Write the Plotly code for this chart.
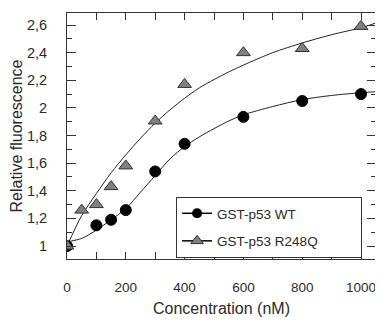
import plotly.graph_objects as go

# Measured data points
conc_wt = [0, 100, 150, 200, 300, 400, 600, 800, 1000]
fluo_wt = [1.0, 1.15, 1.19, 1.26, 1.54, 1.74, 1.935, 2.05, 2.10]

conc_mut = [0, 50, 100, 150, 200, 300, 400, 600, 800, 1000]
fluo_mut = [1.0, 1.26, 1.30, 1.43, 1.58, 1.905, 2.17, 2.40, 2.43, 2.59]

# Fitted curves
fit_x_wt = [0, 50, 100, 150, 200, 250, 300, 350, 400, 450, 500, 550, 600, 700, 800, 900, 1000, 1051]
fit_y_wt = [1.03, 1.055, 1.115, 1.19, 1.27, 1.39, 1.51, 1.63, 1.72, 1.79, 1.85, 1.905, 1.95, 2.01, 2.06, 2.09, 2.11, 2.117]

fit_x_mut = [0, 50, 100, 150, 200, 250, 300, 350, 400, 450, 500, 550, 600, 700, 800, 900, 1000, 1051]
fit_y_mut = [1.0, 1.22, 1.38, 1.53, 1.66, 1.78, 1.89, 1.985, 2.07, 2.145, 2.205, 2.26, 2.31, 2.40, 2.47, 2.53, 2.58, 2.615]

names = ["GST-p53 WT", "GST-p53 R248Q"]

x_ticks = [0, 100, 200, 300, 400, 500, 600, 700, 800, 900, 1000]
x_text = ["0", "", "200", "", "400", "", "600", "", "800", "", "1000"]
y_ticks = [1.0, 1.2, 1.4, 1.6, 1.8, 2.0, 2.2, 2.4, 2.6]
y_text = ["1", "1,2", "1,4", "1,6", "1,8", "2", "2,2", "2,4", "2,6"]

line_col = "#222222"
fig = go.Figure()

fig.add_trace(go.Scatter(x=fit_x_wt, y=fit_y_wt, mode="lines",
                         line=dict(color=line_col, width=1, shape="spline", smoothing=0.8),
                         showlegend=False, hoverinfo="skip"))
fig.add_trace(go.Scatter(x=fit_x_mut, y=fit_y_mut, mode="lines",
                         line=dict(color=line_col, width=1, shape="spline", smoothing=0.8),
                         showlegend=False, hoverinfo="skip"))

fig.add_trace(go.Scatter(x=conc_wt, y=fluo_wt, mode="markers", showlegend=False,
                         marker=dict(symbol="circle", size=11, color="black", line=dict(color="black", width=1))))
fig.add_trace(go.Scatter(x=conc_mut, y=fluo_mut, mode="markers", showlegend=False,
                         marker=dict(symbol="triangle-up", size=12, color="#808080", line=dict(color="#333333", width=1))))

# legend entries
pad = "\u00a0" * 10
fig.add_trace(go.Scatter(x=[None], y=[None], mode="lines+markers", name=names[0] + pad, legendgroup="a",
                         line=dict(color="black", width=1.5),
                         marker=dict(symbol="circle", size=10, color="black")))
fig.add_trace(go.Scatter(x=[None], y=[None], mode="lines+markers", name=names[1] + pad, legendgroup="b",
                         line=dict(color="black", width=1.5),
                         marker=dict(symbol="triangle-up", size=11, color="#808080", line=dict(color="#333333", width=1))))

fam = "Liberation Sans, Arial, sans-serif"
font = dict(family=fam, size=14, color="#2a2a2a")

# The page body has an 8px margin, so the figure is placed from (8, 8).
fig.update_layout(
    width=375, height=319,
    margin=dict(l=59, r=7, t=5, b=68),
    paper_bgcolor="white", plot_bgcolor="white",
    font=font,
    showlegend=True,
    legend=dict(x=0.353, y=0.004, xanchor="left", yanchor="bottom",
                bordercolor="#333333", borderwidth=1, bgcolor="white",
                font=dict(family=fam, size=13.5, color="#2a2a2a"),
                tracegroupgap=7, itemwidth=30),
    xaxis=dict(range=[0, 1051], tickvals=x_ticks, ticktext=x_text, ticks="inside", ticklen=7,
               tickcolor="#333333", showline=True, linecolor="#333333", linewidth=1, mirror="ticks",
               showgrid=False, zeroline=False, ticklabelstandoff=16, automargin=False,
               tickfont=dict(size=13.5),
               title=dict(text="Concentration (nM)", font=dict(size=16), standoff=8)),
    yaxis=dict(range=[0.906, 2.687], tickvals=y_ticks, ticktext=y_text, ticks="inside", ticklen=9,
               tickcolor="#333333", showline=True, linecolor="#333333", linewidth=1, mirror="ticks",
               showgrid=False, zeroline=False, ticklabelstandoff=16, automargin=False,
               tickfont=dict(size=14.5),
               minor=dict(dtick=0.1, tick0=0.9, ticks="inside", ticklen=5, tickcolor="#333333"),
               title=dict(text="Relative fluorescence", font=dict(size=16), standoff=0)),
)

fig.write_html("out.html")
